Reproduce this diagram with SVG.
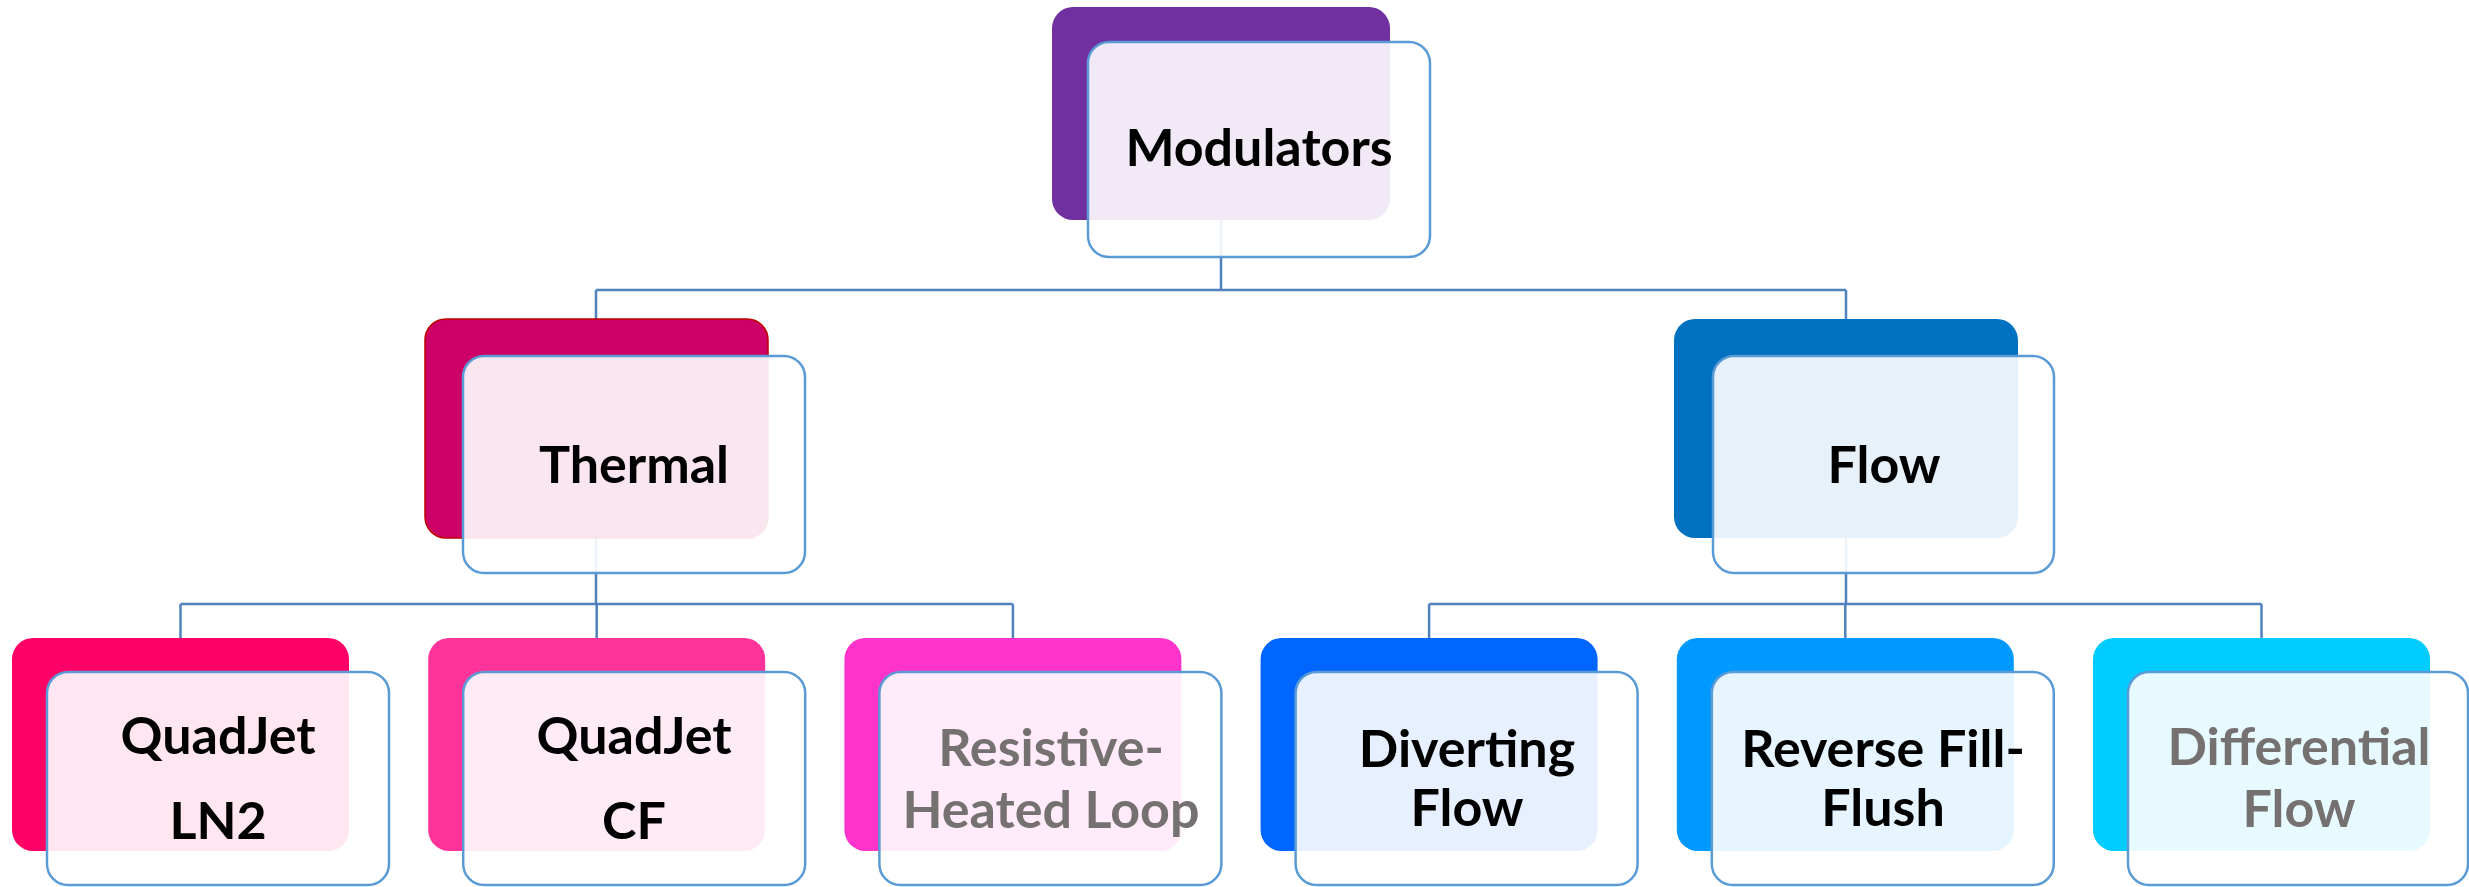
<svg xmlns="http://www.w3.org/2000/svg" width="2469" height="887" viewBox="0 0 2469 887">
<style>
  .front { fill: #ffffff; fill-opacity: 0.9; stroke: #5B9BD5; stroke-width: 2.5; }
  .conn { fill: none; stroke: #4F81BD; stroke-width: 2.5; }
  .lbl { font-family: Lato, "Open Sans", "Liberation Sans", sans-serif; font-weight: bold; font-size: 52px; text-anchor: middle; fill: #000000; }
  .gray { fill: #767171; }
</style>
<rect width="2469" height="887" fill="#ffffff"/>
<g id="connectors">
  <path class="conn" d="M1221 220 V290 M596 290 H1846 M596 290 V319 M1846 290 V319"/>
  <path class="conn" d="M596 538 V604 M180.5 604 H1012.9 M180.5 604 V638 M596.7 604 V638 M1012.9 604 V638"/>
  <path class="conn" d="M1846 538 V604 M1429.1 604 H2261.5 M1429.1 604 V638 M1845.3 604 V638 M2261.5 604 V638"/>
</g>
<g id="modulators">
  <rect x="1052" y="7" width="338" height="213" rx="21" fill="#7030A0"/>
  <rect class="front" x="1088" y="42" width="342" height="215" rx="21"/>
  <text class="lbl" x="1259" y="166">Modulators</text>
</g>
<g id="thermal">
  <rect x="425" y="319" width="343" height="219" rx="21" fill="#CC0066" stroke="#C00000" stroke-width="1.5"/>
  <rect class="front" x="463" y="356" width="342" height="217" rx="21"/>
  <text class="lbl" x="634" y="483">Thermal</text>
</g>
<g id="flow">
  <rect x="1674" y="319" width="344" height="219" rx="21" fill="#0070C0"/>
  <rect class="front" x="1713" y="356" width="341" height="217" rx="21"/>
  <text class="lbl" x="1884" y="483">Flow</text>
</g>
<g id="quadjet-ln2">
  <rect x="12" y="638" width="337" height="213" rx="21" fill="#FF0066"/>
  <rect class="front" x="47" y="672" width="342" height="213" rx="21"/>
  <text class="lbl" x="218" y="754">QuadJet</text>
  <text class="lbl" x="218" y="839">LN2</text>
</g>
<g id="quadjet-cf">
  <rect x="428.2" y="638" width="337" height="213" rx="21" fill="#FF3399"/>
  <rect class="front" x="463.2" y="672" width="342" height="213" rx="21"/>
  <text class="lbl" x="634" y="754">QuadJet</text>
  <text class="lbl" x="634" y="839">CF</text>
</g>
<g id="resistive-heated-loop">
  <rect x="844.4" y="638" width="337" height="213" rx="21" fill="#FF33CC"/>
  <rect class="front" x="879.4" y="672" width="342" height="213" rx="21"/>
  <text class="lbl gray" x="1051" y="766">Resistive-</text>
  <text class="lbl gray" x="1051" y="828">Heated Loop</text>
</g>
<g id="diverting-flow">
  <rect x="1260.6" y="638" width="337" height="213" rx="21" fill="#0066FF"/>
  <rect class="front" x="1295.6" y="672" width="342" height="213" rx="21"/>
  <text class="lbl" x="1467" y="767">Diverting</text>
  <text class="lbl" x="1467" y="826">Flow</text>
</g>
<g id="reverse-fill-flush">
  <rect x="1676.8" y="638" width="337" height="213" rx="21" fill="#0099FF"/>
  <rect class="front" x="1711.8" y="672" width="342" height="213" rx="21"/>
  <text class="lbl" x="1883" y="767">Reverse Fill-</text>
  <text class="lbl" x="1883" y="826">Flush</text>
</g>
<g id="differential-flow">
  <rect x="2093" y="638" width="337" height="213" rx="21" fill="#00CCFF"/>
  <rect class="front" x="2128" y="672" width="340" height="213" rx="21"/>
  <text class="lbl gray" x="2299" y="765">Differential</text>
  <text class="lbl gray" x="2299" y="827">Flow</text>
</g>
</svg>
